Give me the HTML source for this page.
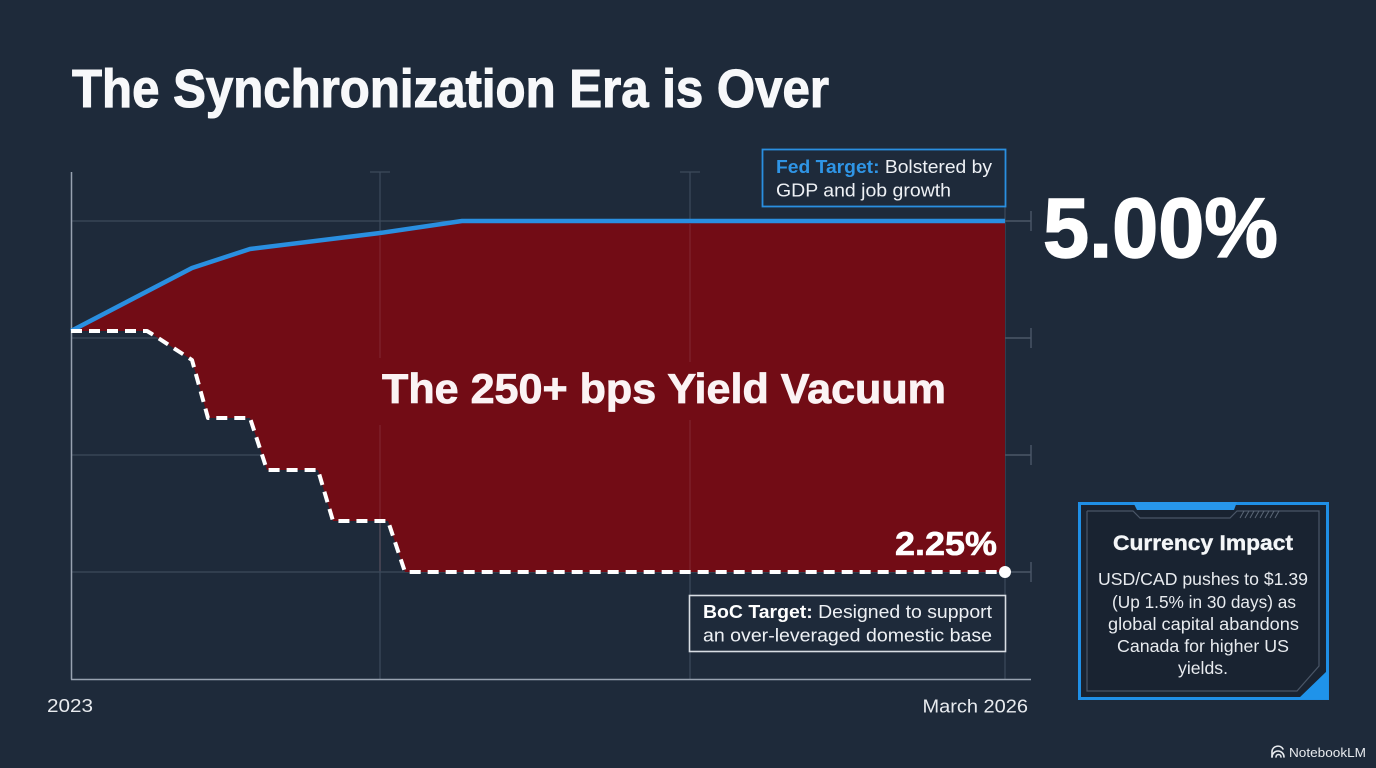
<!DOCTYPE html>
<html>
<head>
<meta charset="utf-8">
<style>
  html,body{margin:0;padding:0;background:#1e2a3a;}
  body{width:1376px;height:768px;overflow:hidden;}
  svg{display:block;}
  text{font-family:"Liberation Sans", Arial, sans-serif;}
</style>
</head>
<body>
<svg width="1376" height="768" viewBox="0 0 1376 768" xmlns="http://www.w3.org/2000/svg">
  <rect x="0" y="0" width="1376" height="768" fill="#1e2a3a"/>

  <!-- Title -->
  <text x="72" y="107" font-size="54" font-weight="bold" fill="#f7f8fa" stroke="#f7f8fa" stroke-width="1.1" textLength="757" lengthAdjust="spacingAndGlyphs">The Synchronization Era is Over</text>

  <!-- Grid (behind fill) -->
  <g stroke="#3d4a5b" stroke-width="1.2" fill="none">
    <line x1="71" y1="221" x2="1005" y2="221"/>
    <line x1="71" y1="338" x2="1005" y2="338"/>
    <line x1="71" y1="455" x2="1005" y2="455"/>
    <line x1="71" y1="572" x2="1005" y2="572"/>
    <line x1="380" y1="172" x2="380" y2="679"/>
    <line x1="690" y1="172" x2="690" y2="679"/>
    <line x1="1005" y1="172" x2="1005" y2="679"/>
    <line x1="370" y1="172" x2="390" y2="172"/>
    <line x1="680" y1="172" x2="700" y2="172"/>
  </g>
  <!-- right ticks -->
  <g stroke="#4b5768" stroke-width="1.4" fill="none">
    <line x1="1005" y1="221" x2="1031" y2="221"/><line x1="1031" y1="211" x2="1031" y2="231"/>
    <line x1="1005" y1="338" x2="1031" y2="338"/><line x1="1031" y1="328" x2="1031" y2="348"/>
    <line x1="1005" y1="455" x2="1031" y2="455"/><line x1="1031" y1="445" x2="1031" y2="465"/>
    <line x1="1005" y1="572" x2="1031" y2="572"/><line x1="1031" y1="562" x2="1031" y2="582"/>
  </g>

  <!-- Fill between lines -->
  <polygon fill="#720c15" points="71,331 192,268 250,249 380,233 462,221 1005,221 1005,572 405,572 388,521 333,521 318,470 267,470 250,418 208,418 192,360 152,334 147,331"/>

  <!-- faint vertical grid over fill -->
  <g stroke="#a0606a" stroke-opacity="0.35" stroke-width="1">
    <line x1="380" y1="236" x2="380" y2="358"/>
    <line x1="380" y1="425" x2="380" y2="571"/>
    <line x1="690" y1="224" x2="690" y2="362"/>
    <line x1="690" y1="420" x2="690" y2="571"/>
  </g>

  <!-- Axes -->
  <g stroke="#98a2b0" stroke-width="1.5" fill="none">
    <line x1="71.5" y1="172" x2="71.5" y2="679.5"/>
    <line x1="71" y1="679.5" x2="1031" y2="679.5"/>
  </g>

  <!-- Fed line -->
  <polyline fill="none" stroke="#2a8fe0" stroke-width="4.5" stroke-linejoin="round" points="71,331 192,268 250,249 380,233 462,221 1005,221"/>

  <!-- BoC dashed line -->
  <polyline fill="none" stroke="#ffffff" stroke-width="4" stroke-dasharray="11 7" stroke-linejoin="round" points="71,331 147,331 152,334 192,360 208,418 250,418 267,470 318,470 333,521 388,521 405,572 1005,572"/>
  <circle cx="1005" cy="572" r="6" fill="#ffffff"/>

  <!-- Big labels -->
  <text x="382" y="403" font-size="42" font-weight="bold" fill="#fbf3f4" stroke="#fbf3f4" stroke-width="0.8" textLength="564" lengthAdjust="spacingAndGlyphs">The 250+ bps Yield Vacuum</text>
  <text x="1043" y="257" font-size="84" font-weight="bold" fill="#ffffff" stroke="#ffffff" stroke-width="1.5" textLength="235" lengthAdjust="spacingAndGlyphs">5.00%</text>
  <text x="895" y="555" font-size="33" font-weight="bold" fill="#ffffff" stroke="#ffffff" stroke-width="0.6" textLength="102" lengthAdjust="spacingAndGlyphs">2.25%</text>

  <!-- Fed box -->
  <rect x="762.5" y="149.5" width="243" height="57" fill="#1e2a3a" stroke="#2a8fe0" stroke-width="1.8"/>
  <text x="776" y="173" font-size="18.5" fill="#eef1f5" textLength="216" lengthAdjust="spacingAndGlyphs"><tspan font-weight="bold" fill="#2f95e6">Fed Target:</tspan> Bolstered by</text>
  <text x="776" y="196.5" font-size="18.5" fill="#eef1f5" textLength="175" lengthAdjust="spacingAndGlyphs">GDP and job growth</text>

  <!-- BoC box -->
  <rect x="689.5" y="595.5" width="316" height="56" fill="#1e2a3a" stroke="#d8dde3" stroke-width="1.6"/>
  <text x="703" y="618" font-size="18.5" fill="#eef1f5" textLength="289" lengthAdjust="spacingAndGlyphs"><tspan font-weight="bold" fill="#ffffff">BoC Target:</tspan> Designed to support</text>
  <text x="703" y="641.5" font-size="18.5" fill="#eef1f5" textLength="289" lengthAdjust="spacingAndGlyphs">an over-leveraged domestic base</text>

  <!-- X labels -->
  <text x="47" y="712" font-size="18.5" fill="#e8ebef" textLength="46" lengthAdjust="spacingAndGlyphs">2023</text>
  <text x="922.5" y="712.5" font-size="18.5" fill="#e8ebef" textLength="105.5" lengthAdjust="spacingAndGlyphs">March 2026</text>

  <!-- Currency Impact box -->
  <rect x="1079.5" y="503.5" width="248" height="195" fill="#192331" stroke="#1f8fe6" stroke-width="3"/>
  <!-- top tab -->
  <polygon points="1133,502 1237,502 1234,510 1137,510" fill="#2796ea"/>
  <!-- inner border with chamfers -->
  <polyline fill="none" stroke="#4a5667" stroke-width="1.2" points="1087,511 1133,511 1140,518 1230,518 1237,511 1319,511 1319,666 1297,691 1087,691 1087,511"/>
  <!-- hatch marks -->
  <g stroke="#5b6777" stroke-width="1">
    <line x1="1240" y1="518" x2="1244" y2="511"/>
    <line x1="1245" y1="518" x2="1249" y2="511"/>
    <line x1="1250" y1="518" x2="1254" y2="511"/>
    <line x1="1255" y1="518" x2="1259" y2="511"/>
    <line x1="1260" y1="518" x2="1264" y2="511"/>
    <line x1="1265" y1="518" x2="1269" y2="511"/>
    <line x1="1270" y1="518" x2="1274" y2="511"/>
    <line x1="1275" y1="518" x2="1279" y2="511"/>
  </g>
  <!-- bottom-right triangle -->
  <polygon points="1328,670 1328,699 1298,699" fill="#1f93ea"/>

  <text x="1203" y="550" font-size="21.5" font-weight="bold" fill="#f4f6f8" stroke="#f4f6f8" stroke-width="0.4" text-anchor="middle" textLength="180" lengthAdjust="spacingAndGlyphs">Currency Impact</text>
  <g font-size="17.5" fill="#e8ebef" text-anchor="middle">
    <text x="1203" y="585" textLength="210" lengthAdjust="spacingAndGlyphs">USD/CAD pushes to $1.39</text>
    <text x="1204" y="608" textLength="184" lengthAdjust="spacingAndGlyphs">(Up 1.5% in 30 days) as</text>
    <text x="1203.5" y="630" textLength="191" lengthAdjust="spacingAndGlyphs">global capital abandons</text>
    <text x="1203" y="652" textLength="172" lengthAdjust="spacingAndGlyphs">Canada for higher US</text>
    <text x="1203" y="674" textLength="50" lengthAdjust="spacingAndGlyphs">yields.</text>
  </g>

  <!-- NotebookLM mark -->
  <g fill="none" stroke="#e8ebef" stroke-width="1.6" stroke-linecap="round">
    <path d="M1272,757 A6,6 0 0 1 1284,757"/>
    <path d="M1272,757 L1272,751 A6,6 0 0 1 1283,749"/>
    <path d="M1276,757 A2.5,2.5 0 0 1 1281,757"/>
  </g>
  <text x="1289" y="757" font-size="13" fill="#e8ebef" textLength="77" lengthAdjust="spacingAndGlyphs">NotebookLM</text>
</svg>
</body>
</html>
